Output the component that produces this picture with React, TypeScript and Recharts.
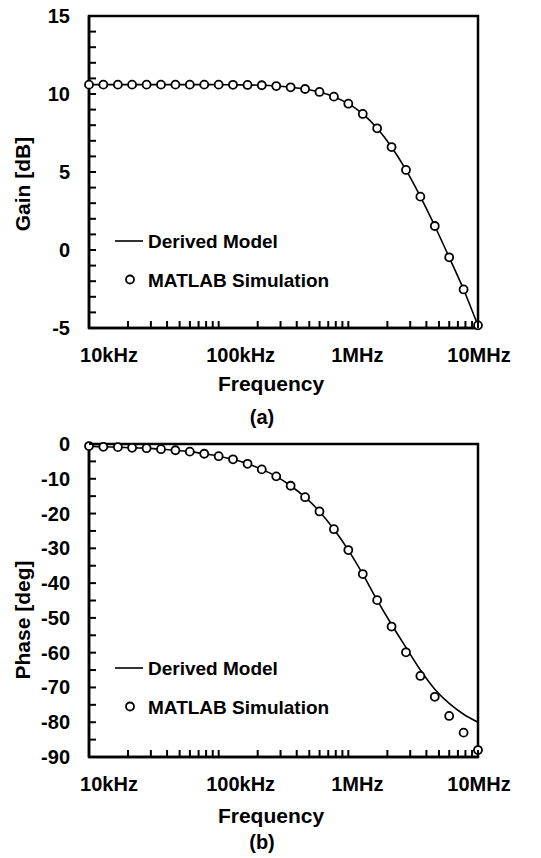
import { LineChart, Line, XAxis, YAxis, Legend, ReferenceArea, Label } from "recharts";

const FONT = "'Liberation Sans', Arial, sans-serif";

// frequency points in kHz (log spaced, 9 per decade)
const freqKHz = [
  10, 12.9, 16.7, 21.5, 27.8, 35.9, 46.4, 59.9, 77.4,
  100, 129, 167, 215, 278, 359, 464, 599, 774,
  1000, 1292, 1668, 2154, 2783, 3594, 4642, 5995, 7743, 10000,
];

const gainModel = [
  10.6, 10.6, 10.6, 10.6, 10.6, 10.6, 10.6, 10.6, 10.6, 10.6, 10.59, 10.58,
  10.56, 10.51, 10.43, 10.32, 10.13, 9.83, 9.38, 8.72, 7.8, 6.6, 5.13, 3.42,
  1.54, -0.47, -2.53, -4.85,
];
const gainSim = [
  10.6, 10.6, 10.6, 10.6, 10.6, 10.6, 10.6, 10.6, 10.6, 10.6, 10.59, 10.58,
  10.56, 10.51, 10.43, 10.32, 10.13, 9.83, 9.38, 8.72, 7.8, 6.6, 5.13, 3.42,
  1.54, -0.47, -2.53, -4.83,
];

const phaseModel = [
  -0.6, -0.8, -0.9, -1.1, -1.2, -1.5, -1.8, -2.2, -2.8, -3.5, -4.4, -5.7,
  -7.3, -9.3, -12.0, -15.3, -19.4, -24.5, -30.5, -37.4, -44.9, -51.9, -58.5,
  -65.0, -70.5, -74.6, -77.7, -80.0,
];
const phaseSim = [
  -0.6, -0.8, -0.9, -1.1, -1.2, -1.5, -1.8, -2.2, -2.8, -3.5, -4.4, -5.7,
  -7.3, -9.3, -12.0, -15.3, -19.4, -24.5, -30.5, -37.4, -44.9, -52.5, -59.9,
  -66.7, -72.7, -78.2, -83.0, -88.0,
];

const freqMajor = [10, 100, 1000, 10000];
const freqLabels = ["10kHz", "100kHz", "1MHz", "10MHz"];
const freqTicks = [
  10, 20, 30, 40, 50, 60, 70, 80, 90,
  100, 200, 300, 400, 500, 600, 700, 800, 900,
  1000, 2000, 3000, 4000, 5000, 6000, 7000, 8000, 9000, 10000,
];
const gainTicks = [-5, -4, -3, -2, -1, 0, 1, 2, 3, 4, 5, 6, 7, 8, 9, 10, 11, 12, 13, 14, 15];
const phaseTicks = [-90, -85, -80, -75, -70, -65, -60, -55, -50, -45, -40, -35, -30, -25, -20, -15, -10, -5, 0];

const gainData = freqKHz.map((f, i) => ({ f, model: gainModel[i], sim: gainSim[i] }));
const phaseData = freqKHz.map((f, i) => ({ f, model: phaseModel[i], sim: phaseSim[i] }));

// labels in the original sit a bit right of their ticks
const labelShift = [20, 22, 9, 1];

// ticks point inwards, labels only on decades
const FreqTick = (props: any) => {
  const { x, y, payload } = props;
  const i = freqMajor.indexOf(payload.value);
  return (
    <g>
      <path d={`M${x},${y}V${y - 7}`} stroke="#000" strokeWidth={2} fill="none" />
      {i >= 0 && (
        <text x={x + labelShift[i]} y={y + 34} textAnchor="middle" fontSize={20} fontWeight="bold" fontFamily={FONT} fill="#000">
          {freqLabels[i]}
        </text>
      )}
    </g>
  );
};

const makeValueTick = (step: number) => (props: any) => {
  const { x, y, payload } = props;
  const major = payload.value % step === 0;
  return (
    <g>
      <path d={`M${x},${y}H${x + 7}`} stroke="#000" strokeWidth={2} fill="none" />
      {major && (
        <text x={x - 19} y={y + 7} textAnchor="end" fontSize={20} fontWeight="bold" fontFamily={FONT} fill="#000">
          {payload.value}
        </text>
      )}
    </g>
  );
};

const PlotLegend = (props: any) => {
  const { payload = [] } = props;
  return (
    <svg width={260} height={80} style={{ display: "block" }}>
      {payload.map((p: any, i: number) => {
        const cy = 19 + i * 38.5;
        return (
          <g key={i}>
            {p.dataKey === "model" ? (
              <line x1={5} x2={33} y1={cy} y2={cy} stroke="#000" strokeWidth={1.6} />
            ) : (
              <circle cx={20} cy={cy} r={4} fill="#fff" stroke="#000" strokeWidth={1.8} />
            )}
            <text x={38} y={cy + 7} fontSize={19} fontWeight="bold" fontFamily={FONT} fill="#000">
              {p.value}
            </text>
          </g>
        );
      })}
    </svg>
  );
};

const titleStyle = { fontSize: 21, fontWeight: "bold" as const, fontFamily: FONT, fill: "#000" };

const Panel = (props: {
  data: any[];
  height: number;
  top: number;
  bottom: number;
  domain: [number, number];
  ticks: number[];
  step: number;
  yTitle: string;
  yTitleY: number;
  xTitleY: number;
  caption: string;
  captionY: number;
  legendTop: number;
}) => {
  const p = props;
  return (
    <LineChart width={541} height={p.height} data={p.data} margin={{ top: p.top, right: 63, bottom: p.bottom, left: 0 }}>
      <ReferenceArea x1={10} x2={10000} y1={p.domain[0]} y2={p.domain[1]} fill="none" stroke="#000" strokeWidth={2.5} />
      <XAxis
        dataKey="f"
        type="number"
        scale="log"
        domain={[10, 10000]}
        ticks={freqTicks}
        interval={0}
        tick={<FreqTick />}
        tickSize={0}
        tickMargin={0}
        tickLine={false}
        axisLine={{ stroke: "#000", strokeWidth: 2.5 }}
        height={40}
      >
        <Label
          content={() => (
            <g>
              <text x={271} y={p.xTitleY} textAnchor="middle" {...titleStyle}>Frequency</text>
              <text x={262} y={p.captionY} textAnchor="middle" {...titleStyle} fontSize={20}>{p.caption}</text>
            </g>
          )}
        />
      </XAxis>
      <YAxis
        type="number"
        domain={p.domain}
        ticks={p.ticks}
        interval={0}
        tick={makeValueTick(p.step)}
        tickSize={0}
        tickMargin={0}
        tickLine={false}
        axisLine={{ stroke: "#000", strokeWidth: 2.5 }}
        width={89}
      >
        <Label
          content={() => (
            <text x={30} y={p.yTitleY} transform={`rotate(-90, 30, ${p.yTitleY})`} textAnchor="middle" {...titleStyle}>
              {p.yTitle}
            </text>
          )}
        />
      </YAxis>
      <Legend
        layout="vertical"
        align="center"
        verticalAlign="middle"
        content={<PlotLegend />}
        wrapperStyle={{ left: 110, top: p.legendTop, width: 260, height: 80 }}
      />
      <Line
        dataKey="model"
        name="Derived Model"
        type="monotone"
        stroke="#000"
        strokeWidth={1.6}
        dot={false}
        activeDot={false}
        isAnimationActive={false}
      />
      <Line
        dataKey="sim"
        name="MATLAB Simulation"
        stroke="none"
        strokeWidth={0}
        dot={{ r: 4, fill: "#fff", stroke: "#000", strokeWidth: 1.8 }}
        activeDot={false}
        isAnimationActive={false}
      />
    </LineChart>
  );
};

export default function App() {
  return (
    <div style={{ position: "absolute", left: 0, top: 0, width: 541, height: 858, background: "#fff" }}>
      <div style={{ position: "absolute", left: 0, top: 0 }}>
        <Panel
          data={gainData}
          height={430}
          top={16}
          bottom={62}
          domain={[-5, 15]}
          ticks={gainTicks}
          step={5}
          yTitle="Gain [dB]"
          yTitleY={184}
          xTitleY={390.7}
          caption="(a)"
          captionY={424}
          legendTop={222}
        />
      </div>
      <div style={{ position: "absolute", left: 0, top: 430 }}>
        <Panel
          data={phaseData}
          height={428}
          top={14}
          bottom={61}
          domain={[-90, 0]}
          ticks={phaseTicks}
          step={10}
          yTitle="Phase [deg]"
          yTitleY={190}
          xTitleY={392.7}
          caption="(b)"
          captionY={419}
          legendTop={219}
        />
      </div>
    </div>
  );
}
